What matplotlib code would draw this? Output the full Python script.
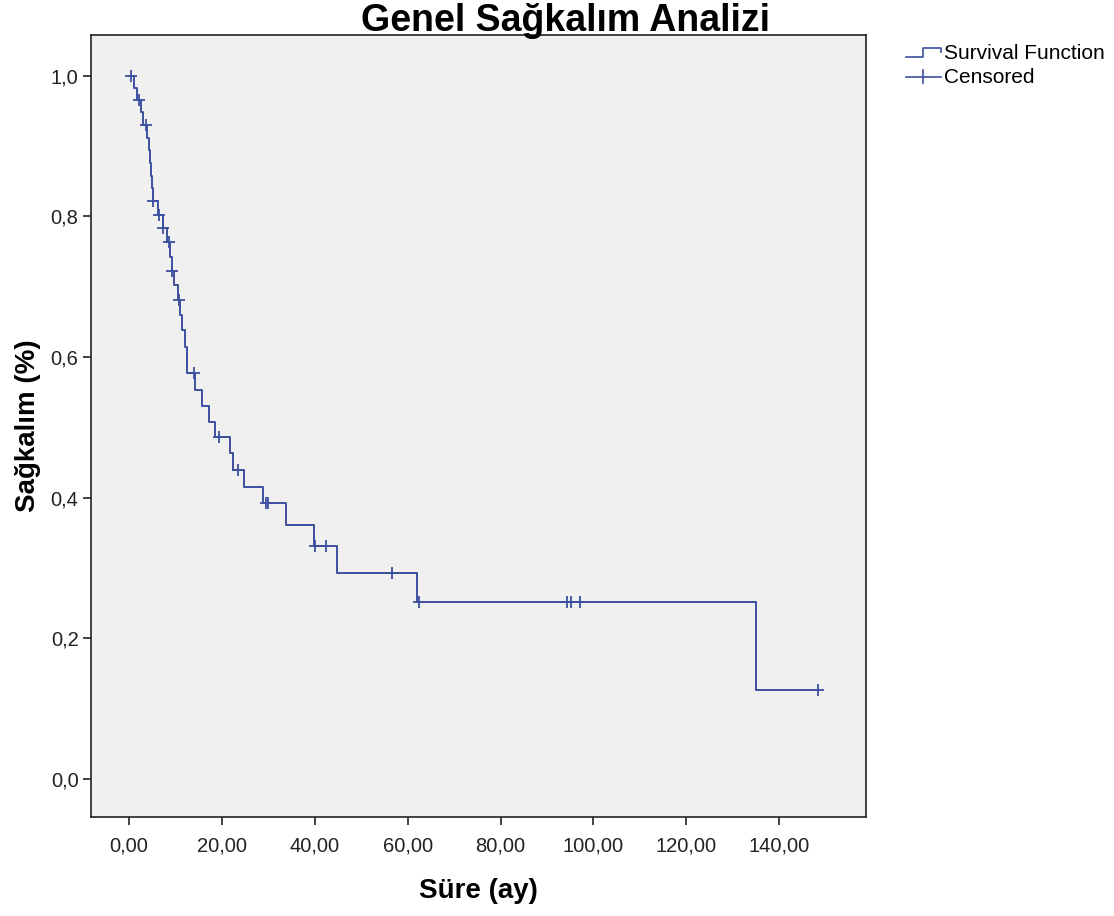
import matplotlib.pyplot as plt
from matplotlib.legend_handler import HandlerBase
from matplotlib.lines import Line2D
import numpy as np

# step points of the survival curve (time of drop, survival after drop)
event_times = [0.0, 1.0, 1.6, 2.6, 3.0, 3.9, 4.2, 4.5, 4.7, 5.0, 5.1, 6.2, 7.2, 8.2,
               8.9, 9.2, 9.6, 10.5, 11.0, 11.3, 12.0, 12.5, 14.2, 15.6, 17.2, 18.6,
               21.7, 22.4, 24.8, 28.9, 33.8, 39.9, 44.8, 62.0, 135.0]
survival = [1.0, 0.983, 0.966, 0.948, 0.930, 0.912, 0.894, 0.876, 0.858, 0.840, 0.822,
            0.802, 0.783, 0.763, 0.743, 0.722, 0.702, 0.681, 0.660, 0.638, 0.615, 0.577,
            0.553, 0.530, 0.508, 0.487, 0.464, 0.440, 0.415, 0.392, 0.361, 0.331, 0.293,
            0.252, 0.126]
censored_times = [0.5, 2.1, 3.6, 5.2, 6.5, 7.4, 8.5, 9.3, 10.8, 13.9, 19.4, 23.4, 29.5,
                  30.0, 40.1, 42.4, 56.6, 62.5, 94.3, 95.2, 97.1, 148.4]
end_time = 148.4

x_ticks = [0, 20, 40, 60, 80, 100, 120, 140]
y_ticks = [0.0, 0.2, 0.4, 0.6, 0.8, 1.0]

line_color = '#3d4f9f'
plt.rcParams['font.family'] = ['Liberation Sans', 'DejaVu Sans']


class StepHandler(HandlerBase):
    def create_artists(self, legend, orig_handle, xdescent, ydescent, width, height, fontsize, trans):
        xs = [0, width * 0.5, width * 0.5, width, width]
        ys = [height * 0.1, height * 0.1, height * 0.75, height * 0.75, height * 0.45]
        ln = Line2D(xs, ys, color=line_color, lw=1.2, transform=trans)
        return [ln]


class CrossHandler(HandlerBase):
    def create_artists(self, legend, orig_handle, xdescent, ydescent, width, height, fontsize, trans):
        h = Line2D([0, width], [height * 0.45, height * 0.45], color=line_color, lw=1.2, transform=trans)
        v = Line2D([width * 0.5, width * 0.5], [height * 0.0, height * 0.9], color=line_color,
                   lw=1.2, transform=trans)
        return [h, v]


fig = plt.figure(figsize=(11.14, 9.16), dpi=100)
ax = fig.add_axes([0.0817, 0.1081, 0.6957, 0.8537])
ax.set_facecolor('#f0f0f0')

t = event_times + [end_time]
s = survival + [survival[-1]]
step_line, = ax.step(t, s, where='post', color=line_color, lw=1.4)

cens_s = [survival[np.searchsorted(event_times, c, side='right') - 1] for c in censored_times]
cens_line, = ax.plot(censored_times, cens_s, linestyle='none', marker='+', markersize=9,
                     mew=1.3, color=line_color)

ax.set_xlim(-8.2, 158.7)
ax.set_ylim(-0.054, 1.058)
ax.set_xticks(x_ticks)
ax.set_xticklabels([f"{v:.2f}".replace('.', ',') for v in x_ticks], fontsize=14.5, color='#222222')
ax.set_yticks(y_ticks)
ax.set_yticklabels([f"{v:.1f}".replace('.', ',') for v in y_ticks], fontsize=14.5, color='#222222')
ax.tick_params(direction='out', length=6, width=1.2, color='#222222', pad=3)
ax.tick_params(axis='x', pad=8)
for sp in ax.spines.values():
    sp.set_color('#222222')
    sp.set_linewidth(1.2)

ax.set_xlabel('Süre (ay)', fontsize=20, fontweight='bold', labelpad=16)
ax.set_ylabel('Sağkalım (%)', fontsize=20, fontweight='bold', labelpad=7)
fig.text(0.508, 0.966, 'Genel Sağkalım Analizi', ha='center', va='baseline',
         fontsize=27, fontweight='bold')

fig.legend([step_line, cens_line], ['Survival Function', 'Censored'],
           handler_map={step_line: StepHandler(), cens_line: CrossHandler()},
           loc='upper left', bbox_to_anchor=(0.8, 0.968), frameon=False,
           fontsize=15, handlelength=1.7, handletextpad=0.15, labelspacing=0.25,
           borderpad=0.2)

fig.savefig('out.png', dpi=100)
